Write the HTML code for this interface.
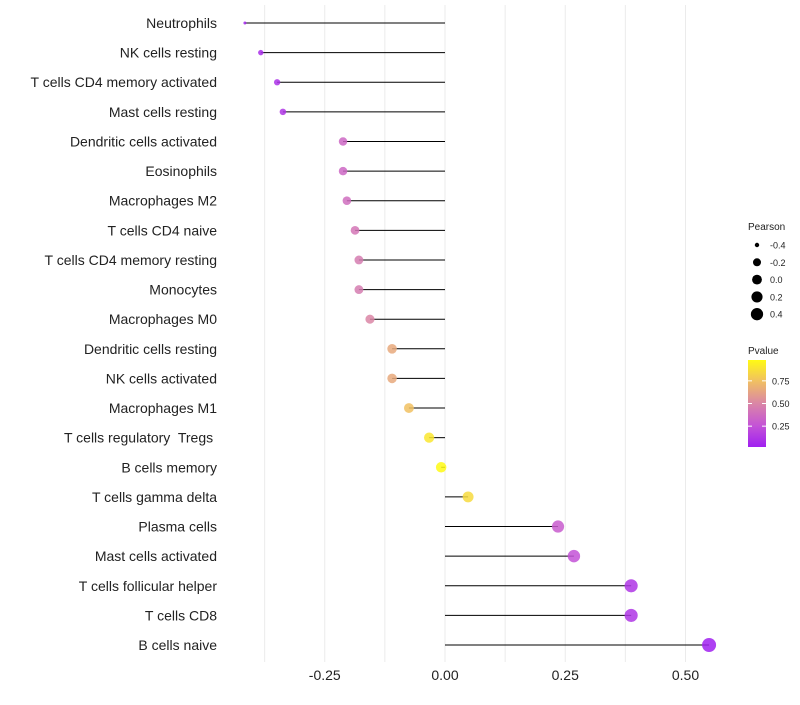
<!DOCTYPE html>
<html><head><meta charset="utf-8"><style>
body{margin:0;background:#fff;font-family:"Liberation Sans",sans-serif}
text{white-space:pre}
</style></head><body>
<svg id="chart" width="800" height="700" xmlns="http://www.w3.org/2000/svg" font-family="Liberation Sans, sans-serif"></svg>
<script>
const categories=["Neutrophils","NK cells resting","T cells CD4 memory activated","Mast cells resting","Dendritic cells activated","Eosinophils","Macrophages M2","T cells CD4 naive","T cells CD4 memory resting","Monocytes","Macrophages M0","Dendritic cells resting","NK cells activated","Macrophages M1","T cells regulatory  Tregs ","B cells memory","T cells gamma delta","Plasma cells","Mast cells activated","T cells follicular helper","T cells CD8","B cells naive"];
const pearson=[-0.416,-0.383,-0.349,-0.337,-0.212,-0.212,-0.204,-0.187,-0.179,-0.179,-0.156,-0.110,-0.110,-0.075,-0.033,-0.008,0.048,0.235,0.268,0.387,0.387,0.549];
const pvalue=[0.05,0.08,0.10,0.12,0.35,0.35,0.38,0.42,0.45,0.45,0.50,0.65,0.65,0.75,0.90,0.98,0.85,0.30,0.25,0.12,0.12,0.02];
const xTicks=[-0.25,0,0.25,0.5];
const xTickLabels=["-0.25","0.00","0.25","0.50"];
const sizeBreaks=[-0.4,-0.2,0.0,0.2,0.4];
const sizeLabels=["-0.4","-0.2","0.0","0.2","0.4"];
const pBreaks=[0.25,0.5,0.75];
const pLabels=["0.25","0.50","0.75"];

const NS="http://www.w3.org/2000/svg";
const svg=document.getElementById('chart');
function el(t,a,p){const e=document.createElementNS(NS,t);for(const k in a)e.setAttribute(k,a[k]);(p||svg).appendChild(e);return e;}
const x=v=>445+v*481;
const y=i=>23+i*(622/(categories.length-1));
const vmin=Math.min(...pearson),vmax=Math.max(...pearson);
const rad=v=>{let t=(v-vmin)/(vmax-vmin);t=Math.max(0,Math.min(1,t));return 1.5+5.5*Math.pow(t,0.45);};
const pmin=Math.min(...pvalue),pmax=Math.max(...pvalue);
const stops=[[0,[160,32,240]],[0.25,[196,84,214]],[0.5,[218,134,166]],[0.75,[240,190,100]],[1,[255,250,20]]];
function col(p){let t=(p-pmin)/(pmax-pmin);t=Math.max(0,Math.min(1,t));for(let i=1;i<stops.length;i++){if(t<=stops[i][0]){const a=stops[i-1],b=stops[i];const f=(t-a[0])/(b[0]-a[0]);const c=a[1].map((v,k)=>Math.round(v+(b[1][k]-v)*f));return `rgb(${c})`;}}return 'rgb(255,250,20)';}

[-0.375,-0.25,-0.125,0,0.125,0.25,0.375,0.5].forEach(v=>{
 const g=el('line',{x1:x(v),x2:x(v),y1:5,y2:662,stroke:'#ebebeb','stroke-width':1});
 
 
});
xTicks.forEach((v,i)=>{
 const t=el('text',{x:x(v),y:680,'text-anchor':'middle','font-size':14,fill:'#222'});
 t.textContent=xTickLabels[i];
 
 
});
categories.forEach((c,i)=>{
 const t=el('text',{x:217,y:y(i)+5,'text-anchor':'end','font-size':14,fill:'#222'});
 t.textContent=c;
 
 
 const l=el('line',{x1:x(0),x2:x(pearson[i]),y1:y(i),y2:y(i),stroke:'#000','stroke-width':1});
 
 
 const p=el('circle',{cx:x(pearson[i]),cy:y(i),r:rad(pearson[i]),fill:col(pvalue[i]),'fill-opacity':0.85});
 
 
});
const lt=el('text',{x:748,y:230,'font-size':10,fill:'#222'});lt.textContent='Pearson';


sizeBreaks.forEach((v,i)=>{
 const cy=245+i*17.3;
 const c=el('circle',{cx:757,cy:cy,r:rad(v)*0.93,fill:'#000'});
 
 
 const t=el('text',{x:770,y:cy+3.5,'font-size':9,fill:'#222'});t.textContent=sizeLabels[i];
 
 
});
const pt=el('text',{x:748,y:354,'font-size':10,fill:'#222'});pt.textContent='Pvalue';


const defs=el('defs',{});
const gr=el('linearGradient',{id:'pg',x1:0,y1:1,x2:0,y2:0},defs);
stops.forEach(s=>el('stop',{offset:s[0],'stop-color':`rgb(${s[1]})`},gr));
const bar=el('rect',{x:748,y:360,width:18,height:87,fill:'url(#pg)'});


pBreaks.forEach((v,i)=>{
 const yy=447-(v-pmin)/(pmax-pmin)*87;
 el('line',{x1:748,x2:752,y1:yy,y2:yy,stroke:'#fff'});
 el('line',{x1:762,x2:766,y1:yy,y2:yy,stroke:'#fff'});
 const t=el('text',{x:772,y:yy+3.5,'font-size':9,fill:'#222'});t.textContent=pLabels[i];
 
 
});
</script>
</body></html>
